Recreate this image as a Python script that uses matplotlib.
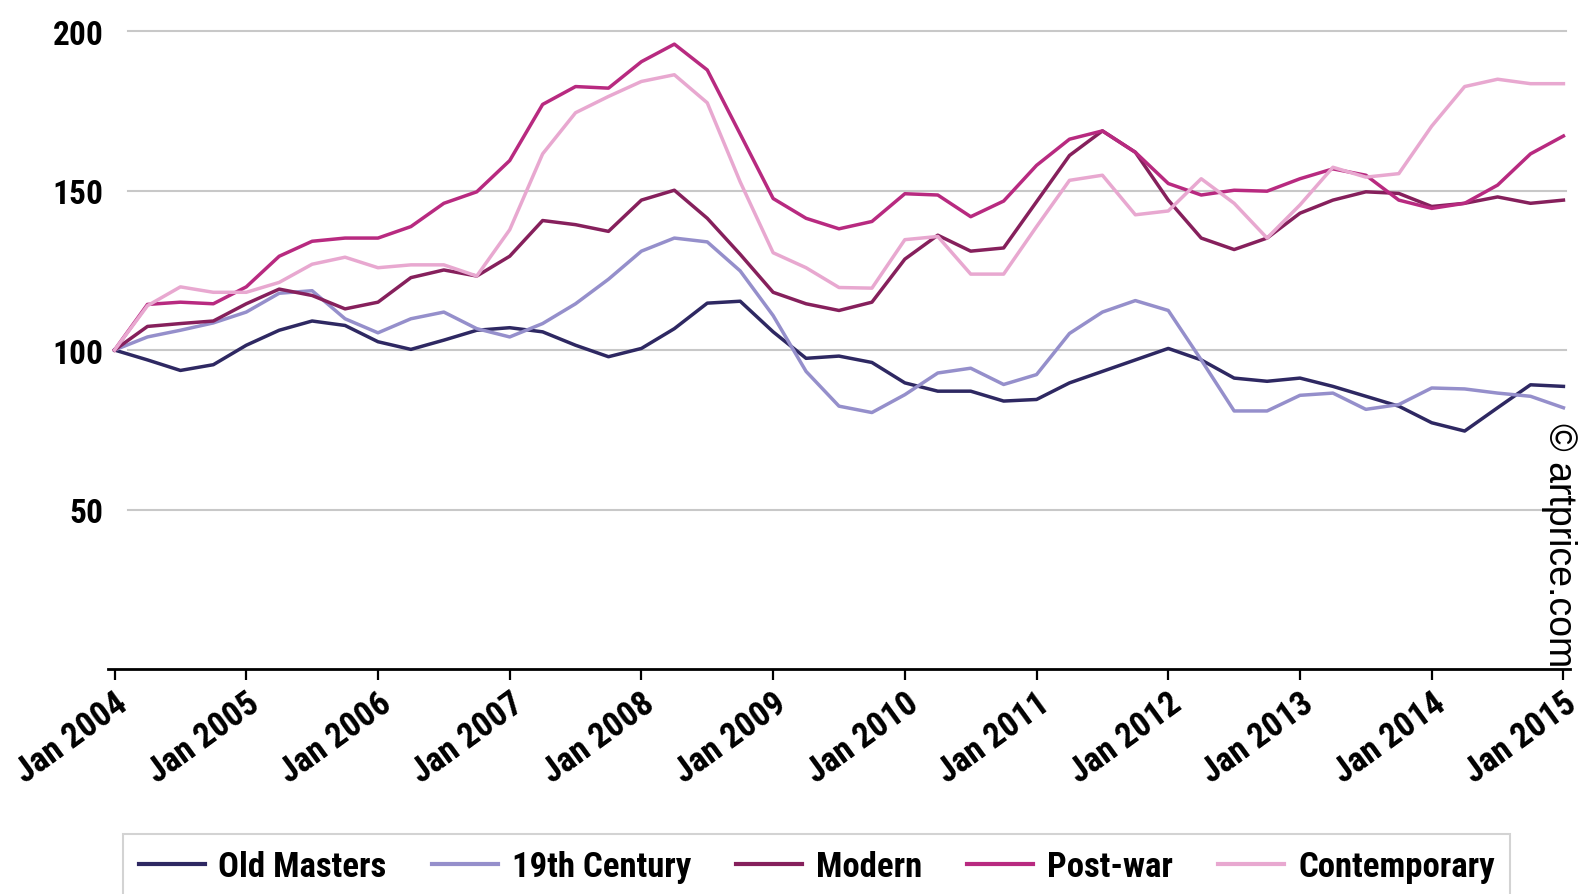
import numpy as np
import matplotlib
matplotlib.use('Agg')
import matplotlib.pyplot as plt
from matplotlib import font_manager

# ── Data: quarterly price index, Jan 2004 = 100 ─────────────
quarters = np.arange(45)
years = list(range(2004, 2016))
tick_labels = [f'Jan {y}' for y in years]

old_masters = [100, 96.9, 93.6, 95.4, 101.5, 106.2, 109.1, 107.7, 102.6, 100.2, 103.1, 106.2, 107.0,
               105.7, 101.5, 97.9, 100.5, 106.7, 114.7, 115.3, 105.7, 97.4, 98.1, 96.1, 89.7,
               87.1, 87.1, 84.0, 84.5, 89.7, 93.3, 96.9, 100.5, 96.9, 91.2, 90.2, 91.2,
               88.6, 85.5, 82.4, 77.2, 74.6, 81.9, 89.1, 88.6]
century_19 = [100, 104.1, 106.2, 108.5, 111.9, 117.8, 118.6, 109.8, 105.4, 109.8, 111.9, 106.7, 104.1,
              108.3, 114.5, 122.2, 131.0, 135.1, 133.9, 124.8, 110.8, 93.3, 82.4, 80.4, 86.0,
              92.8, 94.3, 89.2, 92.3, 105.2, 111.9, 115.5, 112.4, 96.9, 80.9, 80.9, 85.8,
              86.5, 81.4, 82.9, 88.1, 87.8, 86.5, 85.5, 81.9]
modern = [100, 107.4, 108.3, 109.1, 114.5, 119.1, 117.1, 112.9, 115.0, 122.7, 125.1, 123.2, 129.4,
          140.6, 139.3, 137.2, 147.0, 150.1, 141.3, 130.0, 118.1, 114.5, 112.4, 115.0, 128.5,
          136.0, 131.0, 132.0, 146.5, 161.0, 168.7, 162.0, 147.0, 135.1, 131.5, 135.1, 142.9,
          147.0, 149.6, 149.1, 145.0, 146.0, 148.0, 146.0, 147.0]
post_war = [100, 114.3, 115.0, 114.5, 119.8, 129.4, 134.1, 135.1, 135.1, 138.7, 146.0, 149.6, 159.4,
            177.0, 182.6, 182.1, 190.4, 195.9, 187.8, 167.7, 147.5, 141.3, 138.0, 140.3, 149.0,
            148.6, 141.8, 146.7, 157.9, 166.1, 168.7, 162.0, 152.2, 148.6, 150.1, 149.8, 153.7,
            156.8, 154.8, 147.0, 144.4, 146.0, 151.7, 161.5, 167.1]
contemporary = [100, 113.9, 119.8, 118.1, 118.1, 121.2, 126.9, 129.1, 125.8, 126.7, 126.7, 123.2, 137.7,
                161.5, 174.4, 179.5, 184.2, 186.3, 177.5, 152.7, 130.5, 125.8, 119.6, 119.4, 134.6,
                135.6, 123.8, 123.8, 138.7, 153.2, 154.8, 142.4, 143.6, 153.7, 146.0, 135.1, 145.5,
                157.3, 154.2, 155.3, 170.2, 182.6, 184.9, 183.5, 183.5]

series = [
    ('Old Masters',  old_masters,  '#2e2862'),
    ('19th Century', century_19,   '#958fcb'),
    ('Modern',       modern,       '#86205c'),
    ('Post-war',     post_war,     '#b82a80'),
    ('Contemporary', contemporary, '#e8a8d0'),
]

# pick a narrow bold face if one is installed
names = {f.name for f in font_manager.fontManager.ttflist}
narrow = [n for n in ['Liberation Sans Narrow', 'DejaVu Sans Condensed', 'Roboto Condensed',
                      'Open Sans Condensed', 'Lato'] if n in names]
bold_font = narrow[:1] + ['DejaVu Sans']
stretch = 'condensed'

fig = plt.figure(figsize=(15.83, 8.95), dpi=100)
ax = fig.add_axes([0.0682, 0.2514, 0.9236, 0.7306])

for yv in [50, 100, 150, 200]:
    ax.axhline(yv, xmin=0.014, xmax=0.997, color='#c8c8c8', linewidth=1.5, zorder=0)

for name, vals, color in series:
    ax.plot(quarters, vals, color=color, linewidth=2.5, label=name, zorder=2)

ax.set_xlim(-0.2, 44.2)
ax.set_ylim(0, 205)

ax.set_yticks([50, 100, 150, 200])
ax.set_yticklabels(['50', '100', '150', '200'], family=bold_font, stretch=stretch,
                   fontweight='bold', fontsize=24)
ax.tick_params(axis='y', length=0, pad=3)
for lbl in ax.get_yticklabels():
    lbl.set_va('center_baseline')

ax.set_xticks(quarters[::4])
ax.set_xticklabels(tick_labels, family=bold_font, stretch=stretch, fontweight='bold',
                   fontsize=25, rotation=36, ha='right', va='top', rotation_mode='anchor')
ax.tick_params(axis='x', length=8, width=1.6, color='black', pad=4)

for side in ['left', 'right', 'top']:
    ax.spines[side].set_visible(False)
ax.spines['bottom'].set_linewidth(2)

leg = fig.legend(loc='upper left', bbox_to_anchor=(0.0777, 0.067), ncol=5,
                 prop={'family': bold_font, 'weight': 'bold', 'size': 25, 'stretch': stretch},
                 handlelength=1.9, handletextpad=0.4, columnspacing=1.3,
                 frameon=True, fancybox=False, borderpad=0.45, borderaxespad=0)
leg.get_frame().set_edgecolor('#c8c8c8')
leg.get_frame().set_linewidth(1.5)
for line in leg.get_lines():
    line.set_linewidth(3)

fig.text(0.985, 0.527, '\u00a9 artprice.com', rotation=-90, ha='center', va='top',
         family=['Liberation Sans', 'DejaVu Sans'], fontsize=27)

plt.savefig('out.png', dpi=100)
